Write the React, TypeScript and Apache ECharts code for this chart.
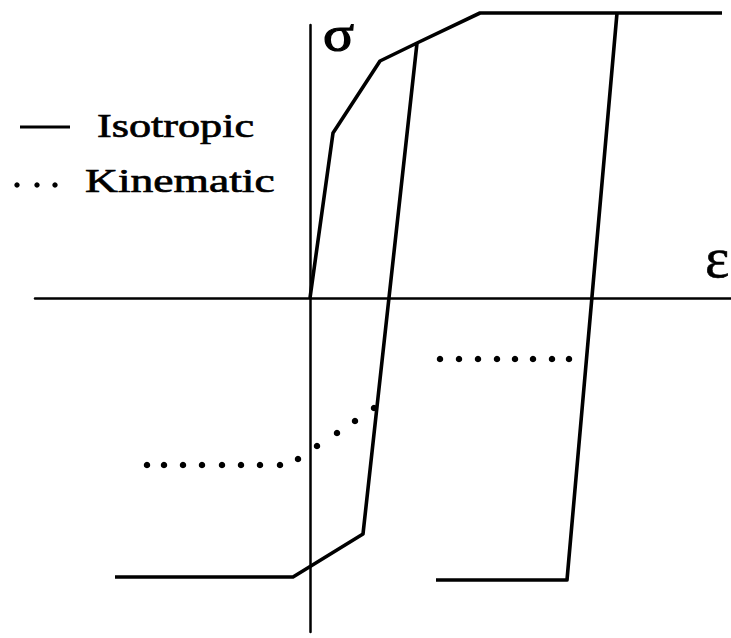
import React, { useEffect, useRef } from "react";
import * as echarts from "echarts";

// Strain / stress in arbitrary units (origin at axis crossing)
const loadEps = [0, 0.23, 0.70, 1.07, 1.70, 4.12];
const loadSig = [0, 1.65, 2.37, 2.55, 2.85, 2.85];

const unloadAEps = [1.07, 0.53, -0.17, -1.95];
const unloadASig = [2.55, -2.36, -2.79, -2.79];

const unloadBEps = [3.07, 2.57, 1.26];
const unloadBSig = [2.85, -2.82, -2.82];

const kinAEps = [-1.63, -1.46, -1.27, -1.08, -0.88, -0.69, -0.50, -0.30, -0.12, 0.07, 0.27, 0.45, 0.64];
const kinASig = [-1.67, -1.67, -1.67, -1.67, -1.67, -1.67, -1.67, -1.67, -1.61, -1.48, -1.35, -1.23, -1.10];

const kinBEps = [1.30, 1.49, 1.68, 1.87, 2.05, 2.23, 2.42, 2.59];
const kinBSig = [-0.61, -0.61, -0.61, -0.61, -0.61, -0.61, -0.61, -0.61];

const legendLabels = ["Isotropic", "Kinematic"];
const xName = "ε";
const yName = "σ";

const zip = (a: number[], b: number[]) => a.map((v, i) => [v, b[i]]);

const FONT = "'Liberation Serif', 'Times New Roman', serif";

export default function App() {
  const ref = useRef<HTMLDivElement>(null);
  useEffect(() => {
    if (!ref.current) return;
    const chart = echarts.init(ref.current, undefined, { renderer: "svg" });
    const solid = (name: string, e: number[], s: number[]) => ({
      type: "line",
      name,
      data: zip(e, s),
      showSymbol: false,
      symbol: "none",
      clip: false,
      lineStyle: { color: "#000", width: 3.6, join: "round", opacity: 1 },
      silent: true,
    });
    const dots = (name: string, e: number[], s: number[]) => ({
      type: "scatter",
      name,
      data: zip(e, s),
      symbol: "circle",
      symbolSize: 6.5,
      clip: false,
      itemStyle: { color: "#000", opacity: 1 },
      silent: true,
    });
    const textStyle = (text: string, size: number, valign: string, stroke: number) => ({
      text,
      font: `${size}px ${FONT}`,
      fill: "#000",
      stroke: "#000",
      lineWidth: stroke,
      textAlign: "left",
      textVerticalAlign: valign,
    });
    chart.setOption({
      animation: false,
      backgroundColor: "#fff",
      grid: { left: 35, right: 0, top: 25, bottom: 6 },
      xAxis: {
        type: "value",
        min: -2.75,
        max: 4.21,
        axisLine: { show: true, onZero: true, lineStyle: { color: "#000", width: 2.5 } },
        axisTick: { show: false },
        axisLabel: { show: false },
        splitLine: { show: false },
      },
      yAxis: {
        type: "value",
        min: -3.34,
        max: 2.73,
        axisLine: { show: true, onZero: true, lineStyle: { color: "#000", width: 2.5 } },
        axisTick: { show: false },
        axisLabel: { show: false },
        splitLine: { show: false },
      },
      series: [
        solid(legendLabels[0], loadEps, loadSig),
        solid(legendLabels[0], unloadAEps, unloadASig),
        solid(legendLabels[0], unloadBEps, unloadBSig),
        dots(legendLabels[1], kinAEps, kinASig),
        dots(legendLabels[1], kinBEps, kinBSig),
      ],
      graphic: [
        { type: "text", x: 323, y: 9, scaleX: 1.15, style: textStyle(yName, 50, "top", 1.2) },
        { type: "text", x: 705, y: 228, style: textStyle(xName, 58, "top", 0.6) },
        { type: "line", shape: { x1: 20, y1: 127, x2: 70, y2: 127 }, style: { stroke: "#000", lineWidth: 3 } },
        { type: "text", x: 97, y: 125.5, scaleX: 1.3, style: textStyle(legendLabels[0], 34, "middle", 0.7) },
        { type: "circle", shape: { cx: 17, cy: 185, r: 2.7 }, style: { fill: "#000" } },
        { type: "circle", shape: { cx: 37, cy: 185, r: 2.7 }, style: { fill: "#000" } },
        { type: "circle", shape: { cx: 55, cy: 185, r: 2.7 }, style: { fill: "#000" } },
        { type: "text", x: 85, y: 180.5, scaleX: 1.34, style: textStyle(legendLabels[1], 34, "middle", 0.7) },
      ],
    });
    return () => chart.dispose();
  }, []);
  return (
    <div
      ref={ref}
      style={{ position: "fixed", left: 0, top: 0, width: 731, height: 638, background: "#fff" }}
    />
  );
}
